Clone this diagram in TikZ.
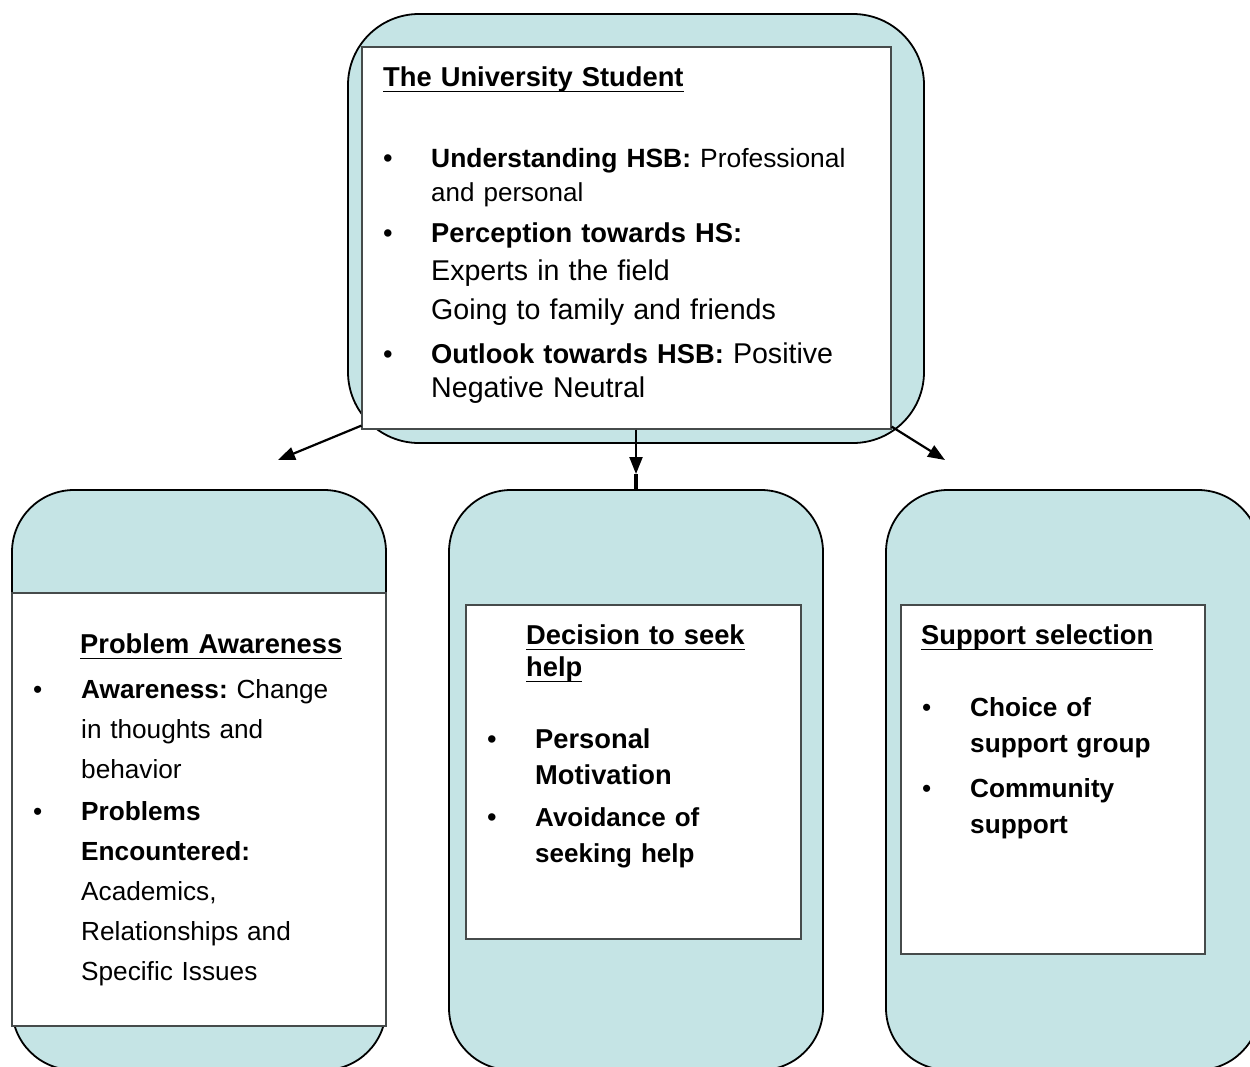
\documentclass[tikz,border=0pt]{standalone}
\usepackage{fontspec}
\setmainfont{Liberation Sans}
\usetikzlibrary{arrows.meta}
\usetikzlibrary{positioning}
\frenchspacing
\definecolor{mteal}{RGB}{197, 228, 229}
\definecolor{mgrey}{RGB}{70, 75, 75}
\tikzset{outer/.style = {draw, line width=1.8pt, fill=mteal, inner sep=0pt}}
\tikzset{inner/.style = {draw=mgrey, line width=1.2pt, fill=white, inner sep=0pt}}
\tikzset{txt/.style = {anchor=base west, inner sep=0pt, text width=560pt, align=left,
                       font=\fontsize{27.3pt}{#1}\selectfont}}
\tikzset{small/.style = {font=\fontsize{26.2pt}{#1}\selectfont}}
\tikzset{arr/.style = {line width=2.2pt, -{Triangle[length=17pt, width=13pt]}}}
\newsavebox{\ulbox}
\newcommand{\ultitle}[1]{\leavevmode\sbox{\ulbox}{\textbf{#1}}\rlap{\rule[-6pt]{\wd\ulbox}{1.4pt}}\usebox{\ulbox}}
\newcommand{\hbul}{\leavevmode\makebox[48pt][l]{\textbullet}}
\newcommand{\hind}{\hspace*{48pt}}
\newcommand{\wide}{\fontsize{28.6pt}{34pt}\selectfont}

\begin{document}
\begin{tikzpicture}[x=1pt, y=-1pt]
      \useasboundingbox (0, 0) rectangle (1250, 1066);
      \clip (0, 0) rectangle (1250, 1066);

      \node [outer, rounded corners=71pt, minimum width=576pt, minimum height=429pt] (stuOut) at (636, 228.5) {};
      \node [inner, minimum width=529pt, minimum height=382pt] (stuIn) at (626.5, 238) {};

      \node [outer, rounded corners=62pt, minimum width=374pt, minimum height=580pt] (awOut) at (199, 780) {};
      \node [outer, rounded corners=62pt, minimum width=374pt, minimum height=580pt] (decOut) at (636, 780) {};
      \node [outer, rounded corners=62pt, minimum width=374pt, minimum height=580pt] (supOut) at (1073, 780) {};

      \node [inner, minimum width=374pt, minimum height=433pt] (awIn) at (199, 809.5) {};
      \node [inner, minimum width=335pt, minimum height=334pt] (decIn) at (633.5, 772) {};
      \node [inner, minimum width=304pt, minimum height=349pt] (supIn) at (1053, 779.5) {};

      \coordinate (tipL) at (278, 460);
      \coordinate (tipR) at (945, 460);
      \coordinate (tipM) at (636, 474);
      \draw [arr] ([yshift=4pt]stuIn.south west) -- (tipL);
      \draw [arr] ([yshift=3pt]stuIn.south east) -- (tipR);
      \draw [arr] (stuIn.south -| tipM) -- (tipM);
      \draw [line width=4.5pt] (tipM) -- (decOut.north);

      \node [txt=34pt] (stuTitle) at (383, 86) {\ultitle{The University Student}};
      \node [txt=34pt] (stuList) at (383, 167) {\hbul{\fontsize{26.4pt}{34pt}\selectfont\textbf{Understanding HSB:} Professional}\\
        \hind{\fontsize{26pt}{34pt}\selectfont and personal}\\[7pt]
        \hbul\textbf{Perception towards HS:}\\[4pt]
        \hind{\wide Experts in the field}\\[5pt]
        \hind{\wide Going to family and friends}\\[10pt]
        \hbul\textbf{Outlook towards HSB:} {\wide Positive}\\
        \hind{\wide Negative Neutral}};

      \node [txt=40pt] (awTitle) at (80, 653) {\ultitle{Problem Awareness}};
      \node [txt=40pt, small=40pt] (awList) at (33, 698) {\hbul\textbf{Awareness:} Change\\
        \hind in thoughts and\\
        \hind behavior\\[2pt]
        \hbul\textbf{Problems}\\
        \hind\textbf{Encountered:}\\
        \hind Academics,\\
        \hind Relationships and\\
        \hind Specific Issues};

      \node [txt=32pt] (decTitle) at (526, 644) {\ultitle{Decision to seek}\\\ultitle{help}};
      \node [txt=36pt] (decList) at (487, 748) {\hbul\textbf{Personal}\\
        \hind\textbf{Motivation}\\[6pt]
        \hbul{\fontsize{26pt}{36pt}\selectfont\textbf{Avoidance of}}\\
        \hind{\fontsize{26pt}{36pt}\selectfont\textbf{seeking help}}};

      \node [txt=36pt] (supTitle) at (921, 644) {\ultitle{Support selection}};
      \node [txt=36pt, small=36pt] (supList) at (922, 716) {\hbul\textbf{Choice of}\\
        \hind\textbf{support group}\\[9pt]
        \hbul\textbf{Community}\\
        \hind\textbf{support}};
\end{tikzpicture}
\end{document}
